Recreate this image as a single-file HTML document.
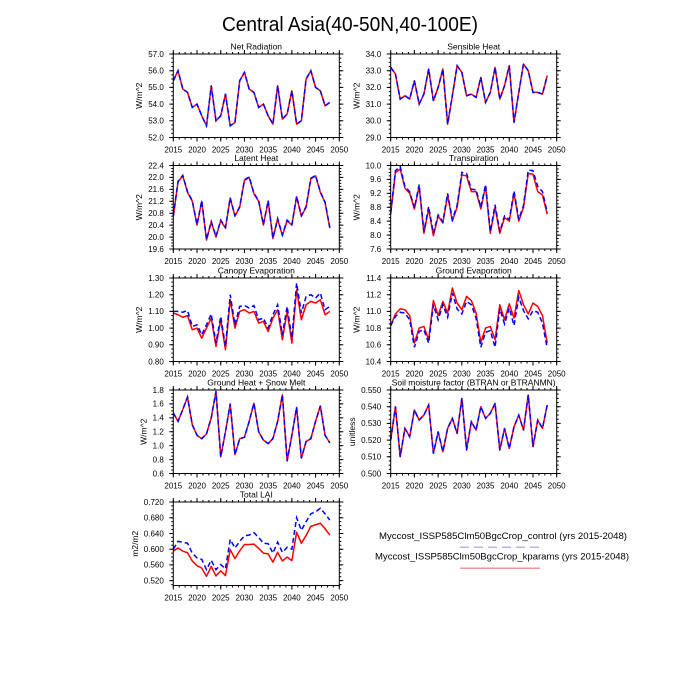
<!DOCTYPE html>
<html><head><meta charset="utf-8">
<style>
html,body{margin:0;padding:0;background:#fff}
svg{display:block}
text{font-family:"Liberation Sans",Arial,sans-serif;fill:#000}
.tl{font-size:8px}
.yl{text-anchor:end}
.xl{text-anchor:middle}
.tt{font-size:8.5px;text-anchor:middle}
.al{font-size:8.5px;text-anchor:middle}
.k{fill:none;stroke:#000;stroke-width:1}
.t{stroke:#000}
.r{fill:none;stroke:#f00;stroke-width:1.5;stroke-linejoin:round}
.b{fill:none;stroke:#00f;stroke-width:1.5;stroke-dasharray:5 3}
</style></head>
<body>
<svg width="700" height="700" viewBox="0 0 700 700" xmlns="http://www.w3.org/2000/svg">
<rect width="700" height="700" fill="#fff"/>
<text x="350" y="31" font-size="20" text-anchor="middle" textLength="256" lengthAdjust="spacingAndGlyphs">Central Asia(40-50N,40-100E)</text>

<!-- P1 Net Radiation -->
<g transform="translate(173.3,54)">
<g transform="scale(4.742857,-16.7) translate(0,-57)">
<polyline class="r" vector-effect="non-scaling-stroke" points="0,55.4 1,56 2,54.9 3,54.7 4,53.8 5,54 6,53.3 7,52.7 8,55.1 9,53 10,53.3 11,54.6 12,52.7 13,52.9 14,55.4 15,55.9 16,54.9 17,54.7 18,53.8 19,54 20,53.3 21,52.8 22,55.1 23,53.1 24,53.4 25,54.8 26,52.8 27,53 28,55.5 29,56 30,55 31,54.8 32,53.9 33,54.1"/>
<polyline class="b" vector-effect="non-scaling-stroke" points="0,55.4 1,56 2,54.9 3,54.7 4,53.8 5,54 6,53.3 7,52.7 8,55.1 9,53 10,53.3 11,54.6 12,52.7 13,52.9 14,55.4 15,55.9 16,54.9 17,54.7 18,53.8 19,54 20,53.3 21,52.8 22,55.1 23,53.1 24,53.4 25,54.8 26,52.8 27,53 28,55.5 29,56 30,55 31,54.8 32,53.9 33,54.1"/>
</g>
<rect class="k" x="0" y="0" width="166" height="83.5"/>
<line class="t" x1="-0.5" x2="166.5" y1="85.5" y2="85.5" stroke-width="4" stroke-dasharray="1 22.714"/>
<line class="t" x1="-0.5" x2="166.5" y1="-2" y2="-2" stroke-width="4" stroke-dasharray="1 22.714"/>
<line class="t" x1="-0.5" x2="166.5" y1="84.5" y2="84.5" stroke-width="2" stroke-dasharray="1 4.9286"/>
<line class="t" x1="-0.5" x2="166.5" y1="-1" y2="-1" stroke-width="2" stroke-dasharray="1 4.9286"/>
<line class="t" x1="-2" x2="-2" y1="-0.5" y2="84" stroke-width="4" stroke-dasharray="1 15.7"/>
<line class="t" x1="168" x2="168" y1="-0.5" y2="84" stroke-width="4" stroke-dasharray="1 15.7"/>
<line class="t" x1="-1" x2="-1" y1="-0.5" y2="84" stroke-width="2" stroke-dasharray="1 3.175"/>
<line class="t" x1="167" x2="167" y1="-0.5" y2="84" stroke-width="2" stroke-dasharray="1 3.175"/>
<text class="tt" x="83" y="-4.5">Net Radiation</text>
<text class="al" transform="translate(-31.1,41.75) rotate(-90)">W/m^2</text>
<text class="tl yl" x="-9.5" y="2.8">57.0</text><text class="tl yl" x="-9.5" y="19.5">56.0</text><text class="tl yl" x="-9.5" y="36.2">55.0</text><text class="tl yl" x="-9.5" y="52.9">54.0</text><text class="tl yl" x="-9.5" y="69.6">53.0</text><text class="tl yl" x="-9.5" y="86.3">52.0</text>
<text class="tl xl" x="0" y="98.5">2015</text><text class="tl xl" x="23.71" y="98.5">2020</text><text class="tl xl" x="47.43" y="98.5">2025</text><text class="tl xl" x="71.14" y="98.5">2030</text><text class="tl xl" x="94.86" y="98.5">2035</text><text class="tl xl" x="118.57" y="98.5">2040</text><text class="tl xl" x="142.29" y="98.5">2045</text><text class="tl xl" x="166" y="98.5">2050</text>
</g>

<!-- P2 Sensible Heat -->
<g transform="translate(390.7,54)">
<g transform="scale(4.742857,-16.7) translate(0,-34)">
<polyline class="r" vector-effect="non-scaling-stroke" points="0,33.2 1,32.8 2,31.3 3,31.5 4,31.3 5,32.4 6,31 7,31.6 8,33.1 9,31.2 10,32 11,33.1 12,29.8 13,31.5 14,33.3 15,32.9 16,31.5 17,31.6 18,31.4 19,32.6 20,31.1 21,31.7 22,33.2 23,31.3 24,32.1 25,33.3 26,29.9 27,31.7 28,33.4 29,33 30,31.7 31,31.7 32,31.6 33,32.7"/>
<polyline class="b" vector-effect="non-scaling-stroke" points="0,33.2 1,32.8 2,31.3 3,31.5 4,31.3 5,32.4 6,31 7,31.6 8,33.1 9,31.2 10,32 11,33.1 12,29.8 13,31.5 14,33.3 15,32.9 16,31.5 17,31.6 18,31.4 19,32.6 20,31.1 21,31.7 22,33.2 23,31.3 24,32.1 25,33.3 26,29.9 27,31.7 28,33.4 29,33 30,31.7 31,31.7 32,31.6 33,32.7"/>
</g>
<rect class="k" x="0" y="0" width="166" height="83.5"/>
<line class="t" x1="-0.5" x2="166.5" y1="85.5" y2="85.5" stroke-width="4" stroke-dasharray="1 22.714"/>
<line class="t" x1="-0.5" x2="166.5" y1="-2" y2="-2" stroke-width="4" stroke-dasharray="1 22.714"/>
<line class="t" x1="-0.5" x2="166.5" y1="84.5" y2="84.5" stroke-width="2" stroke-dasharray="1 4.9286"/>
<line class="t" x1="-0.5" x2="166.5" y1="-1" y2="-1" stroke-width="2" stroke-dasharray="1 4.9286"/>
<line class="t" x1="-2" x2="-2" y1="-0.5" y2="84" stroke-width="4" stroke-dasharray="1 15.7"/>
<line class="t" x1="168" x2="168" y1="-0.5" y2="84" stroke-width="4" stroke-dasharray="1 15.7"/>
<line class="t" x1="-1" x2="-1" y1="-0.5" y2="84" stroke-width="2" stroke-dasharray="1 3.175"/>
<line class="t" x1="167" x2="167" y1="-0.5" y2="84" stroke-width="2" stroke-dasharray="1 3.175"/>
<text class="tt" x="83" y="-4.5">Sensible Heat</text>
<text class="al" transform="translate(-31.1,41.75) rotate(-90)">W/m^2</text>
<text class="tl yl" x="-9.5" y="2.8">34.0</text><text class="tl yl" x="-9.5" y="19.5">33.0</text><text class="tl yl" x="-9.5" y="36.2">32.0</text><text class="tl yl" x="-9.5" y="52.9">31.0</text><text class="tl yl" x="-9.5" y="69.6">30.0</text><text class="tl yl" x="-9.5" y="86.3">29.0</text>
<text class="tl xl" x="0" y="98.5">2015</text><text class="tl xl" x="23.71" y="98.5">2020</text><text class="tl xl" x="47.43" y="98.5">2025</text><text class="tl xl" x="71.14" y="98.5">2030</text><text class="tl xl" x="94.86" y="98.5">2035</text><text class="tl xl" x="118.57" y="98.5">2040</text><text class="tl xl" x="142.29" y="98.5">2045</text><text class="tl xl" x="166" y="98.5">2050</text>
</g>

<!-- P3 Latent Heat -->
<g transform="translate(173.3,165.5)">
<g transform="scale(4.742857,-29.821) translate(0,-22.4)">
<polyline class="r" vector-effect="non-scaling-stroke" points="0,20.7 1,21.85 2,22.05 3,21.5 4,21.2 5,20.4 6,21.2 7,19.9 8,20.5 9,20 10,20.55 11,20.3 12,21.3 13,20.7 14,21 15,21.9 16,22 17,21.45 18,21.2 19,20.4 20,21.2 21,19.95 22,20.6 23,20.05 24,20.55 25,20.4 26,21.35 27,20.7 28,21 29,21.95 30,22.05 31,21.5 32,21.15 33,20.3"/>
<polyline class="b" vector-effect="non-scaling-stroke" points="0,20.7 1,21.87 2,22.07 3,21.52 4,21.22 5,20.42 6,21.22 7,19.92 8,20.52 9,20.02 10,20.57 11,20.32 12,21.32 13,20.72 14,21.02 15,21.92 16,22.02 17,21.47 18,21.22 19,20.42 20,21.22 21,19.97 22,20.62 23,20.07 24,20.57 25,20.42 26,21.37 27,20.72 28,21.02 29,21.97 30,22.07 31,21.52 32,21.17 33,20.32"/>
</g>
<rect class="k" x="0" y="0" width="166" height="83.5"/>
<line class="t" x1="-0.5" x2="166.5" y1="85.5" y2="85.5" stroke-width="4" stroke-dasharray="1 22.714"/>
<line class="t" x1="-0.5" x2="166.5" y1="-2" y2="-2" stroke-width="4" stroke-dasharray="1 22.714"/>
<line class="t" x1="-0.5" x2="166.5" y1="84.5" y2="84.5" stroke-width="2" stroke-dasharray="1 4.9286"/>
<line class="t" x1="-0.5" x2="166.5" y1="-1" y2="-1" stroke-width="2" stroke-dasharray="1 4.9286"/>
<line class="t" x1="-2" x2="-2" y1="-0.5" y2="84" stroke-width="4" stroke-dasharray="1 10.929"/>
<line class="t" x1="168" x2="168" y1="-0.5" y2="84" stroke-width="4" stroke-dasharray="1 10.929"/>
<line class="t" x1="-1" x2="-1" y1="-0.5" y2="84" stroke-width="2" stroke-dasharray="1 1.982"/>
<line class="t" x1="167" x2="167" y1="-0.5" y2="84" stroke-width="2" stroke-dasharray="1 1.982"/>
<text class="tt" x="83" y="-4.5">Latent Heat</text>
<text class="al" transform="translate(-31.1,41.75) rotate(-90)">W/m^2</text>
<text class="tl yl" x="-9.5" y="2.8">22.4</text><text class="tl yl" x="-9.5" y="14.73">22.0</text><text class="tl yl" x="-9.5" y="26.66">21.6</text><text class="tl yl" x="-9.5" y="38.59">21.2</text><text class="tl yl" x="-9.5" y="50.52">20.8</text><text class="tl yl" x="-9.5" y="62.45">20.4</text><text class="tl yl" x="-9.5" y="74.37">20.0</text><text class="tl yl" x="-9.5" y="86.3">19.6</text>
<text class="tl xl" x="0" y="98.5">2015</text><text class="tl xl" x="23.71" y="98.5">2020</text><text class="tl xl" x="47.43" y="98.5">2025</text><text class="tl xl" x="71.14" y="98.5">2030</text><text class="tl xl" x="94.86" y="98.5">2035</text><text class="tl xl" x="118.57" y="98.5">2040</text><text class="tl xl" x="142.29" y="98.5">2045</text><text class="tl xl" x="166" y="98.5">2050</text>
</g>

<!-- P4 Transpiration -->
<g transform="translate(390.7,165.5)">
<g transform="scale(4.742857,-34.792) translate(0,-10)">
<polyline class="r" vector-effect="non-scaling-stroke" points="0,8.6 1,9.8 2,9.9 3,9.35 4,9.2 5,8.75 6,9.4 7,8.05 8,8.75 9,7.98 10,8.55 11,8.35 12,9.15 13,8.4 14,8.8 15,9.73 16,9.7 17,9.25 18,9.25 19,8.75 20,9.4 21,8.05 22,8.8 23,8.05 24,8.5 25,8.4 26,9.2 27,8.4 28,8.8 29,9.77 30,9.75 31,9.25 32,9.15 33,8.6"/>
<polyline class="b" vector-effect="non-scaling-stroke" points="0,8.65 1,9.85 2,9.97 3,9.4 4,9.25 5,8.78 6,9.45 7,8.1 8,8.82 9,8.05 10,8.58 11,8.38 12,9.2 13,8.45 14,8.85 15,9.8 16,9.77 17,9.32 18,9.3 19,8.8 20,9.45 21,8.1 22,8.87 23,8.1 24,8.55 25,8.45 26,9.27 27,8.45 28,8.85 29,9.87 30,9.85 31,9.4 32,9.25 33,8.65"/>
</g>
<rect class="k" x="0" y="0" width="166" height="83.5"/>
<line class="t" x1="-0.5" x2="166.5" y1="85.5" y2="85.5" stroke-width="4" stroke-dasharray="1 22.714"/>
<line class="t" x1="-0.5" x2="166.5" y1="-2" y2="-2" stroke-width="4" stroke-dasharray="1 22.714"/>
<line class="t" x1="-0.5" x2="166.5" y1="84.5" y2="84.5" stroke-width="2" stroke-dasharray="1 4.9286"/>
<line class="t" x1="-0.5" x2="166.5" y1="-1" y2="-1" stroke-width="2" stroke-dasharray="1 4.9286"/>
<line class="t" x1="-2" x2="-2" y1="-0.5" y2="84" stroke-width="4" stroke-dasharray="1 12.917"/>
<line class="t" x1="168" x2="168" y1="-0.5" y2="84" stroke-width="4" stroke-dasharray="1 12.917"/>
<line class="t" x1="-1" x2="-1" y1="-0.5" y2="84" stroke-width="2" stroke-dasharray="1 2.479"/>
<line class="t" x1="167" x2="167" y1="-0.5" y2="84" stroke-width="2" stroke-dasharray="1 2.479"/>
<text class="tt" x="83" y="-4.5">Transpiration</text>
<text class="al" transform="translate(-31.1,41.75) rotate(-90)">W/m^2</text>
<text class="tl yl" x="-9.5" y="2.8">10.0</text><text class="tl yl" x="-9.5" y="16.72">9.6</text><text class="tl yl" x="-9.5" y="30.63">9.2</text><text class="tl yl" x="-9.5" y="44.55">8.8</text><text class="tl yl" x="-9.5" y="58.47">8.4</text><text class="tl yl" x="-9.5" y="72.38">8.0</text><text class="tl yl" x="-9.5" y="86.3">7.6</text>
<text class="tl xl" x="0" y="98.5">2015</text><text class="tl xl" x="23.71" y="98.5">2020</text><text class="tl xl" x="47.43" y="98.5">2025</text><text class="tl xl" x="71.14" y="98.5">2030</text><text class="tl xl" x="94.86" y="98.5">2035</text><text class="tl xl" x="118.57" y="98.5">2040</text><text class="tl xl" x="142.29" y="98.5">2045</text><text class="tl xl" x="166" y="98.5">2050</text>
</g>

<!-- P5 Canopy Evaporation -->
<g transform="translate(173.3,278)">
<g transform="scale(4.742857,-167) translate(0,-1.3)">
<polyline class="r" vector-effect="non-scaling-stroke" points="0,1.09 1,1.08 2,1.065 3,1.075 4,0.99 5,1 6,0.94 7,1 8,1.06 9,0.89 10,1.05 11,0.87 12,1.17 13,1 14,1.1 15,1.11 16,1.09 17,1.1 18,1.03 19,1.04 20,0.98 21,1.06 22,1.11 23,0.93 24,1.1 25,0.91 26,1.23 27,1.05 28,1.14 29,1.16 30,1.15 31,1.17 32,1.08 33,1.1"/>
<polyline class="b" vector-effect="non-scaling-stroke" points="0,1.1 1,1.1 2,1.095 3,1.105 4,1.01 5,1.02 6,0.96 7,1.02 8,1.085 9,0.91 10,1.07 11,0.89 12,1.2 13,1.02 14,1.13 15,1.135 16,1.12 17,1.135 18,1.05 19,1.06 20,1 21,1.08 22,1.14 23,0.96 24,1.13 25,0.94 26,1.27 27,1.09 28,1.19 29,1.2 30,1.18 31,1.21 32,1.11 33,1.13"/>
</g>
<rect class="k" x="0" y="0" width="166" height="83.5"/>
<line class="t" x1="-0.5" x2="166.5" y1="85.5" y2="85.5" stroke-width="4" stroke-dasharray="1 22.714"/>
<line class="t" x1="-0.5" x2="166.5" y1="-2" y2="-2" stroke-width="4" stroke-dasharray="1 22.714"/>
<line class="t" x1="-0.5" x2="166.5" y1="84.5" y2="84.5" stroke-width="2" stroke-dasharray="1 4.9286"/>
<line class="t" x1="-0.5" x2="166.5" y1="-1" y2="-1" stroke-width="2" stroke-dasharray="1 4.9286"/>
<line class="t" x1="-2" x2="-2" y1="-0.5" y2="84" stroke-width="4" stroke-dasharray="1 15.7"/>
<line class="t" x1="168" x2="168" y1="-0.5" y2="84" stroke-width="4" stroke-dasharray="1 15.7"/>
<line class="t" x1="-1" x2="-1" y1="-0.5" y2="84" stroke-width="2" stroke-dasharray="1 3.175"/>
<line class="t" x1="167" x2="167" y1="-0.5" y2="84" stroke-width="2" stroke-dasharray="1 3.175"/>
<text class="tt" x="83" y="-4.5">Canopy Evaporation</text>
<text class="al" transform="translate(-31.1,41.75) rotate(-90)">W/m^2</text>
<text class="tl yl" x="-9.5" y="2.8">1.30</text><text class="tl yl" x="-9.5" y="19.5">1.20</text><text class="tl yl" x="-9.5" y="36.2">1.10</text><text class="tl yl" x="-9.5" y="52.9">1.00</text><text class="tl yl" x="-9.5" y="69.6">0.90</text><text class="tl yl" x="-9.5" y="86.3">0.80</text>
<text class="tl xl" x="0" y="98.5">2015</text><text class="tl xl" x="23.71" y="98.5">2020</text><text class="tl xl" x="47.43" y="98.5">2025</text><text class="tl xl" x="71.14" y="98.5">2030</text><text class="tl xl" x="94.86" y="98.5">2035</text><text class="tl xl" x="118.57" y="98.5">2040</text><text class="tl xl" x="142.29" y="98.5">2045</text><text class="tl xl" x="166" y="98.5">2050</text>
</g>

<!-- P6 Ground Evaporation -->
<g transform="translate(390.7,278)">
<g transform="scale(4.742857,-83.5) translate(0,-11.4)">
<polyline class="r" vector-effect="non-scaling-stroke" points="0,10.83 1,10.97 2,11.03 3,11.02 4,10.95 5,10.62 6,10.8 7,10.82 8,10.66 9,11.13 10,10.95 11,11.12 12,10.98 13,11.28 14,11.1 15,11.02 16,11.18 17,11.13 18,10.98 19,10.63 20,10.8 21,10.82 22,10.66 23,11.08 24,10.9 25,11.09 26,10.92 27,11.25 28,11.08 29,10.97 30,11.1 31,11.06 32,10.95 33,10.62"/>
<polyline class="b" vector-effect="non-scaling-stroke" points="0,10.83 1,10.94 2,10.99 3,10.98 4,10.9 5,10.57 6,10.76 7,10.78 8,10.62 9,11.08 10,10.9 11,11.08 12,10.93 13,11.22 14,11.03 15,10.97 16,11.12 17,11.08 18,10.92 19,10.57 20,10.75 21,10.77 22,10.57 23,11.03 24,10.85 25,11.04 26,10.83 27,11.17 28,11.01 29,10.91 30,11.01 31,10.99 32,10.86 33,10.56"/>
</g>
<rect class="k" x="0" y="0" width="166" height="83.5"/>
<line class="t" x1="-0.5" x2="166.5" y1="85.5" y2="85.5" stroke-width="4" stroke-dasharray="1 22.714"/>
<line class="t" x1="-0.5" x2="166.5" y1="-2" y2="-2" stroke-width="4" stroke-dasharray="1 22.714"/>
<line class="t" x1="-0.5" x2="166.5" y1="84.5" y2="84.5" stroke-width="2" stroke-dasharray="1 4.9286"/>
<line class="t" x1="-0.5" x2="166.5" y1="-1" y2="-1" stroke-width="2" stroke-dasharray="1 4.9286"/>
<line class="t" x1="-2" x2="-2" y1="-0.5" y2="84" stroke-width="4" stroke-dasharray="1 15.7"/>
<line class="t" x1="168" x2="168" y1="-0.5" y2="84" stroke-width="4" stroke-dasharray="1 15.7"/>
<line class="t" x1="-1" x2="-1" y1="-0.5" y2="84" stroke-width="2" stroke-dasharray="1 3.175"/>
<line class="t" x1="167" x2="167" y1="-0.5" y2="84" stroke-width="2" stroke-dasharray="1 3.175"/>
<text class="tt" x="83" y="-4.5">Ground Evaporation</text>
<text class="al" transform="translate(-31.1,41.75) rotate(-90)">W/m^2</text>
<text class="tl yl" x="-9.5" y="2.8">11.4</text><text class="tl yl" x="-9.5" y="19.5">11.2</text><text class="tl yl" x="-9.5" y="36.2">11.0</text><text class="tl yl" x="-9.5" y="52.9">10.8</text><text class="tl yl" x="-9.5" y="69.6">10.6</text><text class="tl yl" x="-9.5" y="86.3">10.4</text>
<text class="tl xl" x="0" y="98.5">2015</text><text class="tl xl" x="23.71" y="98.5">2020</text><text class="tl xl" x="47.43" y="98.5">2025</text><text class="tl xl" x="71.14" y="98.5">2030</text><text class="tl xl" x="94.86" y="98.5">2035</text><text class="tl xl" x="118.57" y="98.5">2040</text><text class="tl xl" x="142.29" y="98.5">2045</text><text class="tl xl" x="166" y="98.5">2050</text>
</g>

<!-- P7 Ground Heat + Snow Melt -->
<g transform="translate(173.3,390)">
<g transform="scale(4.742857,-69.583) translate(0,-1.8)">
<polyline class="r" vector-effect="non-scaling-stroke" points="0,1.47 1,1.35 2,1.52 3,1.7 4,1.3 5,1.15 6,1.1 7,1.17 8,1.4 9,1.78 10,0.84 11,1.2 12,1.6 13,0.87 14,1.1 15,1.12 16,1.35 17,1.61 18,1.2 19,1.08 20,1.03 21,1.1 22,1.35 23,1.73 24,0.78 25,1.15 26,1.55 27,0.82 28,1.06 29,1.1 30,1.35 31,1.57 32,1.15 33,1.04"/>
<polyline class="b" vector-effect="non-scaling-stroke" points="0,1.47 1,1.35 2,1.52 3,1.7 4,1.3 5,1.15 6,1.1 7,1.17 8,1.4 9,1.78 10,0.84 11,1.2 12,1.6 13,0.87 14,1.1 15,1.12 16,1.35 17,1.61 18,1.2 19,1.08 20,1.03 21,1.1 22,1.35 23,1.73 24,0.78 25,1.15 26,1.55 27,0.82 28,1.06 29,1.1 30,1.35 31,1.57 32,1.15 33,1.04"/>
</g>
<rect class="k" x="0" y="0" width="166" height="83.5"/>
<line class="t" x1="-0.5" x2="166.5" y1="85.5" y2="85.5" stroke-width="4" stroke-dasharray="1 22.714"/>
<line class="t" x1="-0.5" x2="166.5" y1="-2" y2="-2" stroke-width="4" stroke-dasharray="1 22.714"/>
<line class="t" x1="-0.5" x2="166.5" y1="84.5" y2="84.5" stroke-width="2" stroke-dasharray="1 4.9286"/>
<line class="t" x1="-0.5" x2="166.5" y1="-1" y2="-1" stroke-width="2" stroke-dasharray="1 4.9286"/>
<line class="t" x1="-2" x2="-2" y1="-0.5" y2="84" stroke-width="4" stroke-dasharray="1 12.917"/>
<line class="t" x1="168" x2="168" y1="-0.5" y2="84" stroke-width="4" stroke-dasharray="1 12.917"/>
<line class="t" x1="-1" x2="-1" y1="-0.5" y2="84" stroke-width="2" stroke-dasharray="1 2.479"/>
<line class="t" x1="167" x2="167" y1="-0.5" y2="84" stroke-width="2" stroke-dasharray="1 2.479"/>
<text class="tt" x="83" y="-4.5">Ground Heat + Snow Melt</text>
<text class="al" transform="translate(-26.6,41.75) rotate(-90)">W/m^2</text>
<text class="tl yl" x="-9.5" y="2.8">1.8</text><text class="tl yl" x="-9.5" y="16.72">1.6</text><text class="tl yl" x="-9.5" y="30.63">1.4</text><text class="tl yl" x="-9.5" y="44.55">1.2</text><text class="tl yl" x="-9.5" y="58.47">1.0</text><text class="tl yl" x="-9.5" y="72.38">0.8</text><text class="tl yl" x="-9.5" y="86.3">0.6</text>
<text class="tl xl" x="0" y="98.5">2015</text><text class="tl xl" x="23.71" y="98.5">2020</text><text class="tl xl" x="47.43" y="98.5">2025</text><text class="tl xl" x="71.14" y="98.5">2030</text><text class="tl xl" x="94.86" y="98.5">2035</text><text class="tl xl" x="118.57" y="98.5">2040</text><text class="tl xl" x="142.29" y="98.5">2045</text><text class="tl xl" x="166" y="98.5">2050</text>
</g>

<!-- P8 Soil moisture factor -->
<g transform="translate(390.7,390)">
<g transform="scale(4.742857,-1670) translate(0,-0.55)">
<polyline class="r" vector-effect="non-scaling-stroke" points="0,0.52 1,0.54 2,0.51 3,0.527 4,0.522 5,0.538 6,0.532 7,0.535 8,0.541 9,0.512 10,0.525 11,0.513 12,0.527 13,0.533 14,0.524 15,0.545 16,0.514 17,0.531 18,0.526 19,0.54 20,0.533 21,0.536 22,0.542 23,0.514 24,0.527 25,0.515 26,0.528 27,0.535 28,0.526 29,0.547 30,0.516 31,0.532 32,0.527 33,0.541"/>
<polyline class="b" vector-effect="non-scaling-stroke" points="0,0.52 1,0.54 2,0.51 3,0.527 4,0.522 5,0.538 6,0.532 7,0.535 8,0.541 9,0.512 10,0.525 11,0.513 12,0.527 13,0.533 14,0.524 15,0.545 16,0.514 17,0.531 18,0.526 19,0.54 20,0.533 21,0.536 22,0.542 23,0.514 24,0.527 25,0.515 26,0.528 27,0.535 28,0.526 29,0.547 30,0.516 31,0.532 32,0.527 33,0.541"/>
</g>
<rect class="k" x="0" y="0" width="166" height="83.5"/>
<line class="t" x1="-0.5" x2="166.5" y1="85.5" y2="85.5" stroke-width="4" stroke-dasharray="1 22.714"/>
<line class="t" x1="-0.5" x2="166.5" y1="-2" y2="-2" stroke-width="4" stroke-dasharray="1 22.714"/>
<line class="t" x1="-0.5" x2="166.5" y1="84.5" y2="84.5" stroke-width="2" stroke-dasharray="1 4.9286"/>
<line class="t" x1="-0.5" x2="166.5" y1="-1" y2="-1" stroke-width="2" stroke-dasharray="1 4.9286"/>
<line class="t" x1="-2" x2="-2" y1="-0.5" y2="84" stroke-width="4" stroke-dasharray="1 15.7"/>
<line class="t" x1="168" x2="168" y1="-0.5" y2="84" stroke-width="4" stroke-dasharray="1 15.7"/>
<line class="t" x1="-1" x2="-1" y1="-0.5" y2="84" stroke-width="2" stroke-dasharray="1 3.175"/>
<line class="t" x1="167" x2="167" y1="-0.5" y2="84" stroke-width="2" stroke-dasharray="1 3.175"/>
<text class="tt" x="83" y="-4.5">Soil moisture factor (BTRAN or BTRANMN)</text>
<text class="al" transform="translate(-35.5,41.75) rotate(-90)">unitless</text>
<text class="tl yl" x="-9.5" y="2.8">0.550</text><text class="tl yl" x="-9.5" y="19.5">0.540</text><text class="tl yl" x="-9.5" y="36.2">0.530</text><text class="tl yl" x="-9.5" y="52.9">0.520</text><text class="tl yl" x="-9.5" y="69.6">0.510</text><text class="tl yl" x="-9.5" y="86.3">0.500</text>
<text class="tl xl" x="0" y="98.5">2015</text><text class="tl xl" x="23.71" y="98.5">2020</text><text class="tl xl" x="47.43" y="98.5">2025</text><text class="tl xl" x="71.14" y="98.5">2030</text><text class="tl xl" x="94.86" y="98.5">2035</text><text class="tl xl" x="118.57" y="98.5">2040</text><text class="tl xl" x="142.29" y="98.5">2045</text><text class="tl xl" x="166" y="98.5">2050</text>
</g>

<!-- P9 Total LAI -->
<g transform="translate(173.3,502)">
<g transform="scale(4.742857,-393.3) translate(0,-0.72)">
<polyline class="r" vector-effect="non-scaling-stroke" points="0,0.595 1,0.603 2,0.595 3,0.591 4,0.57 5,0.558 6,0.552 7,0.531 8,0.556 9,0.532 10,0.545 11,0.533 12,0.599 13,0.576 14,0.596 15,0.612 16,0.612 17,0.613 18,0.602 19,0.59 20,0.588 21,0.567 22,0.592 23,0.57 24,0.58 25,0.571 26,0.643 27,0.615 28,0.635 29,0.658 30,0.662 31,0.666 32,0.652 33,0.636"/>
<polyline class="b" vector-effect="non-scaling-stroke" points="0,0.6 1,0.62 2,0.618 3,0.615 4,0.59 5,0.578 6,0.574 7,0.548 8,0.572 9,0.548 10,0.561 11,0.55 12,0.625 13,0.603 14,0.62 15,0.634 16,0.636 17,0.642 18,0.63 19,0.615 20,0.614 21,0.59 22,0.618 23,0.592 24,0.605 25,0.6 26,0.68 27,0.648 28,0.67 29,0.69 30,0.695 31,0.704 32,0.69 33,0.674"/>
</g>
<rect class="k" x="0" y="0" width="166" height="83.5"/>
<line class="t" x1="-0.5" x2="166.5" y1="85.5" y2="85.5" stroke-width="4" stroke-dasharray="1 22.714"/>
<line class="t" x1="-0.5" x2="166.5" y1="-2" y2="-2" stroke-width="4" stroke-dasharray="1 22.714"/>
<line class="t" x1="-0.5" x2="166.5" y1="84.5" y2="84.5" stroke-width="2" stroke-dasharray="1 4.9286"/>
<line class="t" x1="-0.5" x2="166.5" y1="-1" y2="-1" stroke-width="2" stroke-dasharray="1 4.9286"/>
<line class="t" x1="-2" x2="-2" y1="-0.5" y2="84" stroke-width="4" stroke-dasharray="1 14.732"/>
<line class="t" x1="168" x2="168" y1="-0.5" y2="84" stroke-width="4" stroke-dasharray="1 14.732"/>
<line class="t" x1="-1" x2="-1" y1="-0.5" y2="84" stroke-width="2" stroke-dasharray="1 2.933"/>
<line class="t" x1="167" x2="167" y1="-0.5" y2="84" stroke-width="2" stroke-dasharray="1 2.933"/>
<text class="tt" x="83" y="-4.5">Total LAI</text>
<text class="al" transform="translate(-35.5,41.75) rotate(-90)">m2/m2</text>
<text class="tl yl" x="-9.5" y="2.8">0.720</text><text class="tl yl" x="-9.5" y="18.53">0.680</text><text class="tl yl" x="-9.5" y="34.26">0.640</text><text class="tl yl" x="-9.5" y="50.0">0.600</text><text class="tl yl" x="-9.5" y="65.73">0.560</text><text class="tl yl" x="-9.5" y="81.46">0.520</text>
<text class="tl xl" x="0" y="98.5">2015</text><text class="tl xl" x="23.71" y="98.5">2020</text><text class="tl xl" x="47.43" y="98.5">2025</text><text class="tl xl" x="71.14" y="98.5">2030</text><text class="tl xl" x="94.86" y="98.5">2035</text><text class="tl xl" x="118.57" y="98.5">2040</text><text class="tl xl" x="142.29" y="98.5">2045</text><text class="tl xl" x="166" y="98.5">2050</text>
</g>

<!-- Legend -->
<text x="379" y="539" font-size="9" textLength="248" lengthAdjust="spacingAndGlyphs">Myccost_ISSP585Clm50BgcCrop_control (yrs 2015-2048)</text>
<line x1="460" y1="547.3" x2="540" y2="547.3" stroke="#b4b4f4" stroke-width="1.5" stroke-dasharray="9 5"/>
<text x="375" y="559.5" font-size="9" textLength="254" lengthAdjust="spacingAndGlyphs">Myccost_ISSP585Clm50BgcCrop_kparams (yrs 2015-2048)</text>
<line x1="460" y1="568.3" x2="540" y2="568.3" stroke="#f49494" stroke-width="1.5"/>
</svg>
</body></html>
